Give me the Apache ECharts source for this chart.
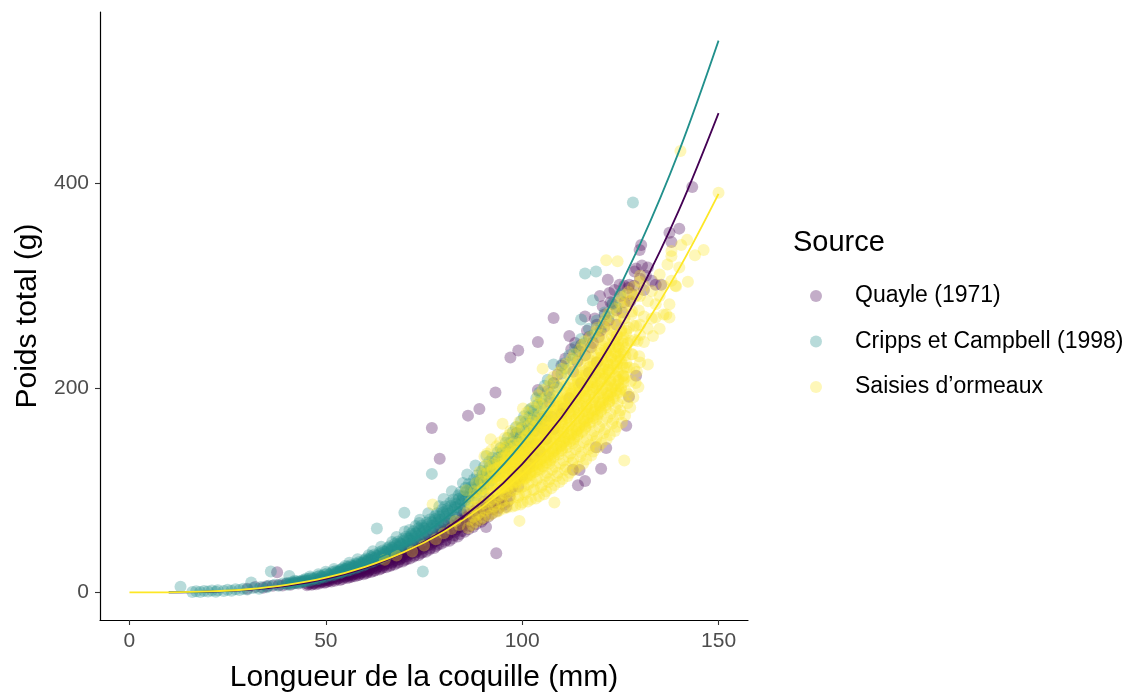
<!DOCTYPE html>
<html>
<head>
<meta charset="utf-8">
<title>Poids total vs longueur de la coquille</title>
<script src="https://cdn.jsdelivr.net/npm/echarts@6/dist/echarts.min.js"></script>
<style>
  html, body { margin: 0; padding: 0; background: #ffffff; overflow: hidden; }
  #chart { width: 1128px; height: 698px; }
</style>
</head>
<body>
<div id="chart"></div>
<script>
// Sources (legend order) and their viridis colours
const sourceNames = ['Quayle (1971)', 'Cripps et Campbell (1998)', 'Saisies d\u2019ormeaux'];
const sourceColors = ['68,1,84', '33,144,140', '253,231,37'];

// Axis ticks
const xTicks = [0, 50, 100, 150];
const yTicks = [0, 200, 400];

// Observations: [longueur (mm), poids total (g)]
const quaylePoints = [
  [30,3.5],[32,5.2],[34,4.6],[35,6],[36.5,6.5],[37.6,19.7],[38,7.2],[39,6.8],[40,8.4],[41,7.6],[42,9.2],[43,8.8],[44,10.4],
  [45.2,6.9],[45.6,7.9],[45.1,8.6],[46.4,7.4],[46.8,8.5],[46.2,9.5],[47.5,8.1],[47.1,9.2],[47.7,10.3],
  [48.3,8.8],[48.8,9.9],[48.5,11],[48.1,11.9],[49.6,9.5],[49.2,10.7],[49.8,11.8],[49.4,12.7],
  [50.1,9.9],[50.7,11.2],[50.3,12.4],[50.9,13.4],[51.4,10.7],[51.0,12],[51.6,13.2],[51.2,14.4],
  [52.3,11.4],[52.8,12.9],[52.5,14.2],[52.1,15.3],[53.6,12.2],[53.2,13.8],[53.8,15.2],[53.4,16.4],
  [54.2,13.2],[54.7,14.7],[54.4,16.2],[54.0,17.5],[55.5,14],[55.1,15.6],[55.7,17.2],[55.3,18.6],
  [56.1,14.9],[56.6,16.7],[56.3,18.4],[56.9,19.8],[57.4,15.8],[57.0,17.8],[57.7,19.5],[57.2,21.1],
  [58.2,16.8],[58.8,18.9],[58.5,20.7],[58.0,22.4],[59.6,17.8],[59.2,20],[59.8,22],[59.4,23.7],
  [60.3,18.8],[60.9,21.2],[60.5,23.3],[60.1,25.1],[61.5,19.9],[61.1,22.4],[61.7,24.7],[61.3,26.6],
  [62.2,21],[62.8,23.6],[62.4,26],[62.0,28.2],[63.6,22.3],[63.2,25],[63.8,27.5],[63.4,29.7],
  [64.1,23.5],[64.7,26.4],[64.3,29.1],[64.9,31.4],[65.4,24.7],[65.0,27.8],[65.6,30.6],[65.2,33.1],
  [66.3,25.9],[66.9,29.3],[66.5,32.2],[66.1,34.9],[67.5,27.3],[67.1,30.8],[67.7,33.9],[67.3,36.6],
  [68.2,28.7],[68.8,32.4],[68.4,35.6],[68.0,38.5],[69.6,30.2],[69.2,34],[69.8,37.4],[69.4,40.4],
  [70.1,31.6],[70.7,35.7],[70.3,39.3],[70.9,42.3],[71.4,33.2],[71.0,37.4],[71.6,41.1],[71.2,44.3],
  [72.3,34.8],[72.9,39.2],[72.5,43.1],[72.1,46.5],[73.6,36.4],[73.2,41],[73.8,45.1],[73.4,48.7],
  [74.2,38.2],[74.8,42.9],[74.4,47.2],[74.0,51],[75.5,39.9],[75.1,44.9],[75.7,49.3],[75.3,53.2],
  [76.3,41.7],[76.9,46.9],[76.5,51.6],[76.1,55.6],[77.6,43.5],[77.2,48.9],[77.8,53.9],[77.4,58],
  [78.1,45.4],[78.7,51.2],[78.3,56.3],[78.9,60.6],[79.4,47.5],[79.0,53.4],[79.6,58.7],[79.2,63.2],
  [80.3,49.5],[80.9,55.7],[80.5,61.3],[80.1,66],[81.5,50.5],[81.1,56.8],[81.7,62.5],[81.3,67.2],
  [82.2,52.7],[82.8,59.2],[82.4,65.2],[82.0,70.1],[83.6,54.8],[83.2,61.7],[83.8,67.9],[83.4,73],
  [84.1,57.1],[84.7,64.2],[84.3,70.7],[84.9,76.1],[85.4,59.3],[85.0,66.8],[85.6,73.4],[85.2,79.1],
  [86.3,61.7],[86.9,69.4],[86.5,76.4],[87.5,64.1],[87.1,72.1],[87.7,79.4],[88.2,66.6],[88.8,74.9],[88.4,82.4],
  [89.6,69.1],[89.2,77.8],[89.8,85.5],[90.1,71.7],[90.7,80.7],[90.3,88.7],[91.4,74.4],[91.0,83.7],[91.6,91.8],
  [92.3,77.1],[92.9,86.8],[93.6,79.9],[93.2,90],[94.1,82.8],[94.7,93.2],[95.4,85.8],[96.3,88.7],
  [55.8,16.4],[56.7,15.5],[57.9,18.6],[58.6,17.4],[59.9,20.8],[60.6,19.7],[61.9,23.2],[62.6,21.8],
  [63.9,25.8],[64.6,24.3],[65.9,28.6],[66.6,26.9],[67.9,31.6],[68.6,29.7],[69.9,34.8],[70.6,32.7],
  [71.9,38.2],[72.6,36],[73.9,41.9],[74.6,39.4],[75.9,45.8],[76.6,43.1],[77.9,50],[78.6,47],
  [79.9,54.4],[80.6,51.2],[81.9,59],[82.6,55.6],[83.9,64],[84.6,60.2],[85.9,69.2],[86.6,65],
  [87.9,74.6],[88.6,70.2],[89.9,80.4],[90.6,75.6],[91.9,86.4],[92.6,81.3],[93.9,87.5],[94.6,92.7],
  [95.8,98],[96.8,94],[97.6,104],[98.6,112],
  [77,160.9],[79,130.7],[86.2,173],[89.1,179.4],[90.8,64],[93.2,195.6],[93.4,38.3],[95.9,83.7],
  [97,230],[98.5,155.7],[99,236.8],
  [97,99],[97.5,118],[98,109],[99,103.6],[99.5,124],[100,114],[101,120],[101,132],[101.5,142],[102,126],
  [103,132],[103,158],[103.5,145],[104,245],[104,198],[104.5,138],[105,170],[105.5,160],[106.5,197],[106,150],
  [107,186],[107.5,172],[108,268.6],[108,205],[108,160],[109,213],[110,222],[110,175],[110.5,180],[111,229],
  [112,251],[112,190],[112.5,238],[112.9,120],[113,216],[113.5,244],[114,226],[114.5,236],[114.2,104.8],[114.6,119.7],
  [115,242],[115,205],[116,109],[116,232],[116,270],[116.5,256],[117,250],[117,215],[117.5,240],[118,244],
  [118.5,268],[118.8,142],[119,262],[119,225],[119.5,250],[119.8,290],[120,256],[120.1,121],[120.5,280],[121,272],
  [121,260],[121.4,141.4],[121.8,306],[122,266],[122.2,293],[122.5,284],[123,282],[123.5,296],[124,276],[124,262],
  [124.8,301],[125,290],[125.5,274],[126,284],[126,300],[126.5,163],[127,298],[127.2,191.4],[127.3,301],[127.5,285],
  [128,292],[128.5,300],[128.6,314],[129,317],[129,212],[130,307],[130.5,320],[130.3,340],[129.9,335],[131,296],
  [131.5,310],[132,318],[133,305],[134,301],[135.4,301],[137.5,352],[138,343],[140,356],[143.3,396.8]
];

const crippsPoints = [
  [13,5.5],[16,0.5],[17,1.2],[18,0.3],[19,1.5],[20,0.8],[21,1.8],[22,0.6],[22.5,2.2],[24,1.4],
  [25,2.6],[26,1.6],[27,3.2],[28,2.4],[29,3.6],[30,2.9],[31,9.7],[31.5,4.2],[33,3.6],[33.5,5.4],
  [35,5.0],[35.5,6.6],[36,20.4],[37,7.4],[38,6.4],[39,8.6],[40.7,16],
  [40.2,7.5],[40.6,8.4],[40.1,9.2],[41.4,8.3],[41.0,9.4],[41.7,10.1],
  [42.3,8.9],[42.8,9.6],[42.5,10.7],[42.1,11.4],[43.6,9.4],[43.2,10.6],[43.8,11.3],
  [44.1,10.1],[44.7,11.3],[44.3,12.2],[44.9,13.4],[45.5,11.1],[45.1,12],[45.7,13.3],
  [46.2,11.7],[46.8,13.1],[46.4,14.1],[46.0,15.5],[47.6,12.7],[47.2,13.8],[47.8,15.3],
  [48.3,13.4],[48.9,15],[48.5,16.2],[48.1,17.8],[49.4,14.5],[49.0,15.8],[49.7,17.5],
  [50.2,15.3],[50.8,17.1],[50.4,18.4],[50.0,20.2],[51.5,16.5],[51.1,18],[51.7,19.9],
  [52.3,17.3],[52.9,19.3],[52.5,20.9],[52.1,22.9],[53.6,18.7],[53.2,20.4],[53.8,22.5],
  [54.1,19.6],[54.7,21.8],[54.3,23.6],[54.9,25.8],[55.4,21],[55.0,22.9],[55.6,25.3],
  [56.2,22],[56.8,24.5],[56.4,26.6],[56.0,29],[57.5,23.5],[57.1,25.7],[57.7,28.3],
  [58.3,24.7],[58.9,27.4],[58.5,29.8],[58.1,32.5],[59.6,26.4],[59.2,28.9],[59.8,31.7],
  [60.1,27.5],[60.7,30.7],[60.3,33.3],[60.9,36.3],[61.4,29.3],[61.0,32.1],[61.6,35.3],
  [62.2,30.6],[62.8,34],[62.4,37.2],[62.0,40.3],[63.5,32.5],[63.1,35.7],[63.7,39.2],
  [64.3,33.9],[64.9,37.7],[64.5,41],[64.1,44.6],[65.6,36],[65.2,39.5],[65.8,43.4],
  [66.1,37.4],[66.7,41.6],[66.3,45.2],[66.9,49.3],[67.4,39.6],[67.0,43.5],[67.6,47.7],
  [68.2,41.3],[68.8,45.8],[68.4,49.8],[68.0,54.2],[69.5,43.6],[69.1,47.9],[69.7,52.5],
  [70.3,45.3],[70.9,50.2],[70.5,54.7],[70.1,59.5],[71.6,47.7],[71.2,52.4],[71.8,57.4],
  [72.1,49.6],[72.7,55],[72.3,59.8],[72.9,65.1],[73.4,52.1],[73.0,57.3],[73.6,62.8],
  [74.2,54.2],[74.8,60],[74.4,65.4],[74.0,71.1],[75.5,56.9],[75.1,62.4],[75.7,68.5],
  [76.3,59.1],[76.9,65.5],[76.5,71.3],[76.1,77.5],[77.6,62],[77.2,68],[77.8,74.6],
  [78.1,64.3],[78.7,71.3],[78.3,77.5],[78.9,84.3],[79.4,67.3],[79.0,73.9],[79.6,81],
  [80.2,69.7],[80.8,77.2],[80.4,84],[80.0,91.4],[81.5,72.9],[81.1,80.1],[81.7,87.8],
  [82.3,75.6],[82.9,83.6],[82.5,91],[82.1,98.9],[83.6,78.8],[83.2,86.6],[83.8,95],
  [84.1,81.6],[84.7,90.4],[84.3,98.3],[84.9,107],[85.4,85.1],[85.0,93.5],[85.6,102.5],
  [86.2,88.1],[86.8,97.5],[86.4,106.1],[86.0,115.4],[87.5,91.8],[87.1,100.8],[87.7,110.5],
  [88.3,94.9],[88.9,105],[88.5,114.3],[88.1,124.3],[89.6,98.8],[89.2,108.5],[89.8,118.9],
  [90.1,102],[90.7,112.8],[90.3,122.9],[90.9,133.6],[91.4,106.2],[91.0,116.6],[91.6,127.8],
  [92.2,109.5],[92.8,121.1],[92.4,131.8],[93.5,113.8],[93.1,125],[93.7,136.9],
  [94.3,117.3],[94.9,129.7],[94.5,141.3],[95.6,121.8],[95.2,133.8],[95.8,146.5],
  [96.1,125.5],[96.7,138.8],[96.3,151.2],[97.4,130.2],[97.0,143.1],[97.6,156.7],
  [98.2,134.2],[98.8,148.3],[98.4,161.6],[99.5,139.1],[99.1,152.9],[99.7,167.4],
  [100.3,143.2],[100.9,158.2],[100.5,172.4],[101.6,148.2],[101.2,162.8],[101.8,178.2],
  [102.1,152.6],[102.7,168.6],[102.3,180],[103.4,157.8],[103.0,173.5],[103.6,189.9],
  [104.2,162.6],[104.8,179.6],[104.4,195.7],[105.5,168],[105.1,184.7],[105.7,202.3],
  [106.3,172.8],[106.9,190.9],[106.5,208.1],
  [52.45,18.5],[52.85,20.3],[53.45,19.7],[53.85,21.6],[54.45,20.9],[54.85,22.9],[55.45,22.2],[55.85,24.3],
  [56.45,23.5],[56.85,25.8],[57.45,24.9],[57.85,27.3],[58.45,26.3],[58.85,28.8],[59.45,27.9],[59.85,30.5],
  [60.45,29.4],[60.85,32.3],[61.45,31],[61.85,34],[62.45,32.7],[62.85,35.8],[63.45,34.4],[63.85,37.7],
  [64.45,36.2],[64.85,39.7],[65.45,38.1],[65.85,41.7],[66.45,39.9],[66.85,43.8],[67.45,41.9],[67.85,45.9],
  [68.45,44],[68.85,48.2],[69.45,46.1],[69.85,50.5],[70.45,48.3],[70.85,52.9],[71.45,50.5],[71.85,55.4],
  [72.45,52.8],[72.85,57.9],[73.45,55.2],[73.85,60.5],[74.45,57.7],[74.85,63.3],[75.45,60.3],[75.85,66.1],
  [76.45,62.9],[76.85,69],[77.45,65.6],[77.85,71.9],[78.45,68.4],[78.85,75],[79.45,71.2],[79.85,78.1],
  [80.45,74.2],[80.85,81.3],[81.45,77.2],[81.85,84.6],[82.45,80.3],[82.85,88],[83.45,83.5],[83.85,91.5],
  [84.45,86.8],[84.85,95.2],[85.45,90.3],[85.85,99],[86.45,93.7],[86.85,102.7],[87.45,97.2],[87.85,106.6],
  [88.45,100.9],[88.85,110.6],[89.45,104.6],[89.85,114.7],[90.45,108.5],[90.85,118.9],[91.45,112.4],[91.85,123.2],
  [92.45,116.4],[92.85,127.6],[93.45,120.5],[93.85,132.1],[94.45,124.7],[94.85,136.7],[95.45,129.1],[95.85,141.5],
  [96.45,133.4],[96.85,146.3],[97.45,138],[97.85,151.3],[98.45,142.6],[98.85,156.3],[99.45,147.4],[99.85,161.5],
  [100.45,152.2],[100.85,166.8],[101.45,157.1],[101.85,172.3],[102.45,162.1],[102.85,177.7],[103.45,167.4],[103.85,183.5],
  [104.45,172.7],[104.85,189.4],
  [63,62.6],[70,78],[71.3,61],[73.8,68],[74.7,20.4],[77,116],
  [107,195],[108,223],[108,205],[109,201],[110,214],[110.5,224],[111,219],[112,232],[113,228],
  [113.5,240],[114,236],[115,267],[115,248],[116,312],[116,244],[117,258],[118,286],[118,252],[118.8,314],
  [119,266],[120,259],[121,274],[122,270],[123,283],[124,279],[125,292],[128.2,381.5]
];

const saisiesPoints = [
  [65,32],[68,36],[72,40],[75,46],[77.2,86],[78,52],[80,58],[82,62],[83,70],[84,66],[85.7,100],
  [86.2,63],[86.6,71],[86.1,79],[86.8,88],
  [87.3,66],[87.7,74],[87.1,83],[87.5,92],[87.9,99],
  [88.2,69],[88.6,76],[88.0,84],[88.4,91],[88.8,98],[88.3,107],
  [89.4,71],[89.1,78],[89.7,86],[89.3,93],[89.9,101],[89.5,109],[89.2,118],
  [90.1,73],[90.6,80],[90.3,87],[90.8,94],[90.0,101],[90.5,108],[90.2,116],[90.7,124],[90.4,133],
  [91.5,75],[91.2,82],[91.8,89],[91.4,96],[91.0,103],[91.6,110],[91.3,117],[91.9,125],[91.1,136],
  [92.3,77],[92.8,84],[92.0,91],[92.6,98],[92.2,105],[92.9,112],[92.4,119],[92.7,127],[92.1,139],[92.0,150],
  [93.6,79],[93.2,86],[93.9,93],[93.4,100],[93.0,107],[93.7,114],[93.3,121],[93.8,129],[93.5,143],
  [94.1,80],[94.7,88],[94.3,95],[94.9,102],[94.5,109],[94.0,116],[94.6,123],[94.2,131],[94.8,139],[94.4,147],
  [95.4,82],[95.0,89],[95.7,96],[95.3,103],[95.9,110],[95.5,117],[95.1,124],[95.8,132],[95.2,141],[95.6,151],[95.0,165],
  [96.2,83],[96.8,91],[96.4,98],[96.0,105],[96.6,112],[96.3,119],[96.9,126],[96.5,134],[96.1,143],[96.7,154],
  [97.5,84],[97.1,92],[97.8,100],[97.3,107],[97.9,114],[97.6,121],[97.2,128],[97.7,136],[97.4,145],[97.0,158],
  [98.3,85],[98.9,93],[98.5,101],[98.1,109],[98.7,116],[98.2,123],[98.8,130],[98.4,138],[98.0,147],[98.6,162],
  [99.3,70],[99.6,86],[99.2,95],[99.8,103],[99.4,111],[99.0,118],[99.7,125],[99.3,132],[99.9,140],[99.5,149],[99.1,158],[99.3,167],
  [100.1,88],[100.7,96],[100.4,104],[100.9,112],[100.2,120],[100.6,127],[100.3,134],[100.8,142],[100.5,151],[100.0,160],[100.7,170],[100.2,180],
  [101.4,89],[101.0,98],[101.6,106],[101.2,114],[101.8,122],[101.5,130],[101.1,137],[101.7,145],[101.3,154],[101.9,164],[101.2,176],
  [102.2,91],[102.8,100],[102.5,108],[102.1,116],[102.7,124],[102.3,132],[102.9,140],[102.6,148],[102.0,157],[102.4,167],[102.8,181],
  [103.5,92],[103.1,101],[103.7,110],[103.3,118],[103.9,126],[103.6,134],[103.2,142],[103.8,151],[103.4,160],[103.0,170],[103.6,186],
  [104.3,94],[104.8,103],[104.0,112],[104.6,120],[104.2,128],[104.9,137],[104.4,145],[104.1,154],[104.7,163],[104.3,173],[104.5,184],[104.0,193],
  [105.6,96],[105.2,105],[105.9,114],[105.4,123],[105.0,131],[105.7,140],[105.3,148],[105.8,157],[105.5,166],[105.1,176],[105.6,187],[105.2,198],[105.2,219],
  [106.1,99],[106.7,108],[106.3,117],[106.9,126],[106.5,134],[106.0,143],[106.6,152],[106.2,161],[106.8,170],[106.4,180],[106.1,191],[106.7,202],
  [107.4,102],[107.0,111],[107.6,120],[107.2,129],[107.8,138],[107.5,147],[107.1,156],[107.7,165],[107.3,174],[107.9,184],[107.6,195],[107.2,207],
  [108.2,88],[108.2,105],[108.8,114],[108.4,123],[108.0,132],[108.6,141],[108.3,150],[108.9,159],[108.5,168],[108.1,178],[108.7,188],[108.4,199],[108.0,211],
  [109.5,108],[109.1,117],[109.7,126],[109.3,135],[109.9,144],[109.6,153],[109.2,162],[109.8,172],[109.4,182],[109.0,192],[109.6,203],[109.3,215],
  [110.3,111],[110.9,120],[110.5,129],[110.1,139],[110.7,148],[110.4,157],[110.0,167],[110.6,177],[110.2,187],[110.8,197],[110.5,208],[110.1,219],
  [111.6,114],[111.2,123],[111.8,133],[111.4,142],[111.0,151],[111.7,161],[111.3,171],[111.9,181],[111.5,191],[111.1,202],[111.7,213],[111.3,224],
  [112.1,117],[112.7,127],[112.3,136],[112.9,146],[112.5,155],[112.0,165],[112.6,175],[112.2,185],[112.8,196],[112.4,207],[112.0,218],[112.6,229],
  [113.4,120],[113.0,130],[113.6,140],[113.2,150],[113.8,159],[113.5,169],[113.1,179],[113.7,190],[113.3,200],[113.9,211],[113.5,222],[113.2,233],
  [114.2,123],[114.8,133],[114.4,143],[114.0,153],[114.6,163],[114.3,173],[114.9,183],[114.5,194],[114.1,205],[114.7,216],[114.3,227],[114.8,238],
  [115.5,126],[115.1,137],[115.7,147],[115.3,157],[115.9,167],[115.6,177],[115.2,188],[115.8,198],[115.4,209],[115.0,220],[115.6,231],[115.3,242],
  [116.3,130],[116.9,140],[116.5,150],[116.1,161],[116.7,171],[116.4,181],[116.0,192],[116.6,202],[116.2,213],[116.8,224],[116.4,235],[116.0,246],
  [117.6,134],[117.2,144],[117.8,154],[117.4,165],[117.0,175],[117.7,185],[117.3,196],[117.9,206],[117.5,217],[117.1,228],[117.7,239],[117.3,250],
  [118.1,138],[118.7,148],[118.3,158],[118.9,169],[118.5,179],[118.2,189],[118.8,200],[118.4,211],[118.0,221],[118.6,232],[118.2,243],[118.8,255],
  [119.4,142],[119.0,152],[119.6,162],[119.2,173],[119.8,183],[119.5,194],[119.1,204],[119.7,215],[119.3,226],[119.9,237],[119.5,248],[119.1,259],
  [120.2,146],[120.8,156],[120.4,167],[120.0,177],[120.6,188],[120.3,198],[120.9,209],[120.5,219],[120.1,230],[120.7,241],[120.3,252],[120.8,264],
  [121.5,150],[121.1,160],[121.7,171],[121.3,181],[121.9,192],[121.6,202],[121.2,213],[121.8,224],[121.4,235],[121.0,246],[121.6,257],[121.2,268],[121.4,325],
  [122.3,154],[122.9,165],[122.5,175],[122.1,186],[122.7,196],[122.4,207],[122.0,218],[122.6,229],[122.2,240],[122.8,251],[122.4,262],[122.0,273],
  [123.6,158],[123.2,169],[123.8,180],[123.4,190],[123.0,201],[123.7,212],[123.3,223],[123.9,234],[123.5,245],[123.1,256],[123.7,267],[123.4,278],
  [124.1,162],[124.7,174],[124.3,185],[124.9,196],[124.5,207],[124.2,218],[124.8,229],[124.4,240],[124.0,251],[124.6,262],[124.3,273],[124.9,284],[124.3,324],
  [125.4,166],[125.0,178],[125.6,190],[125.2,201],[125.8,212],[125.5,223],[125.1,234],[125.7,246],[125.3,257],[125.9,268],[125.5,279],[125.2,289],
  [126.0,129],[126.2,173],[126.8,185],[126.4,197],[126.0,209],[126.6,220],[126.3,232],[126.9,244],[126.5,256],[126.1,268],[126.7,280],[126.3,291],
  [127.5,181],[127.1,194],[127.7,207],[127.3,220],[127.9,233],[127.6,246],[127.2,259],[127.8,272],[127.4,285],[127.0,294],
  [128.3,191],[128.9,205],[128.5,219],[128.1,233],[128.7,247],[128.4,261],[128.0,275],[128.6,289],[128.2,299],
  [129.6,201],[129.2,216],[129.8,231],[129.4,246],[129.0,261],[129.7,276],[129.3,291],[129.9,304],
  [92.45,97],[92.45,104.6],[92.45,112.4],[92.45,120],[93.85,99],[93.85,106.5],[93.85,114.5],[93.85,122],
  [94.45,101.4],[94.45,109.4],[94.45,117.6],[94.45,125.6],[95.85,103.4],[95.85,111.7],[95.85,120.3],[95.85,128.6],
  [96.45,105.4],[96.45,114],[96.45,123],[96.45,131.6],[97.85,107.4],[97.85,116.3],[97.85,125.7],[97.85,134.6],
  [98.45,109.3],[98.45,118.6],[98.45,128.4],[98.45,137.7],[99.85,112],[99.85,121.5],[99.85,131.5],[99.85,141],
  [100.45,114],[100.45,123.8],[100.45,134.2],[100.45,144],[101.85,117.3],[101.85,127.6],[101.85,138.4],[101.85,148.7],
  [102.45,119.5],[102.45,130.4],[102.45,141.6],[102.45,152.5],[103.85,122.9],[103.85,134.1],[103.85,145.9],[103.85,157.1],
  [104.45,125.8],[104.45,137.4],[104.45,149.6],[104.45,161.2],[105.85,129.1],[105.85,141.2],[105.85,153.8],[105.85,165.9],
  [106.45,132.5],[106.45,144.6],[106.45,157.4],[106.45,169.5],[107.85,136.1],[107.85,148.5],[107.85,161.5],[107.85,173.9],
  [108.45,139.4],[108.45,152],[108.45,165],[108.45,177.6],[109.85,143],[109.85,155.8],[109.85,169.2],[109.85,182],
  [110.45,146.4],[110.45,159.3],[110.45,172.7],[110.45,185.6],[111.85,150],[111.85,163.2],[111.85,176.8],[111.85,190],
  [112.45,153.7],[112.45,167],[112.45,181],[112.45,194.3],[113.85,157],[113.85,170.5],[113.85,184.5],[113.85,198],
  [114.45,160.7],[114.45,174.4],[114.45,188.6],[114.45,202.3],[115.85,164],[115.85,177.8],[115.85,192.2],[115.85,206],
  [116.45,168.3],[116.45,182.2],[116.45,196.8],[116.45,210.7],[117.85,172.3],[117.85,186.2],[117.85,200.8],[117.85,214.7],
  [118.45,176.7],[118.45,190.7],[118.45,205.3],[118.45,219.4],[119.85,180.7],[119.85,194.7],[119.85,209.3],[119.85,223.4],
  [120.45,185],[120.45,199.1],[120.45,213.9],[120.45,228],[121.85,189],[121.85,203.1],[121.85,217.9],[121.85,232],
  [122.45,193.3],[122.45,207.6],[122.45,222.4],[122.45,236.7],[123.85,197.3],[123.85,211.6],[123.85,226.4],[123.85,240.7],
  [124.45,201.6],[124.45,216],[124.45,231],[124.45,245.4],[125.85,205.6],[125.85,220],[125.85,235],[125.85,249.4],
  [126.45,211],[126.45,224.8],[126.45,239.2],[126.45,253],
  [95.15,99.8],[95.15,116],[95.15,132.2],[96.15,101.6],[96.15,118.5],[96.15,135.4],[97.15,103.5],[97.15,121],[97.15,138.5],
  [98.15,105.3],[98.15,123.5],[98.15,141.7],[99.15,107.8],[99.15,126.5],[99.15,145.2],[100.15,109.7],[100.15,129],[100.15,148.4],
  [101.15,112.8],[101.15,133],[101.15,153.3],[102.15,114.9],[102.15,136],[102.15,157.2],[103.15,118],[103.15,140],[103.15,162],
  [104.15,120.8],[104.15,143.5],[104.15,166.2],[105.15,123.9],[105.15,147.5],[105.15,171.1],[106.15,127.2],[106.15,151],[106.15,174.9],
  [107.15,130.7],[107.15,155],[107.15,179.3],[108.15,134],[108.15,158.5],[108.15,183],[109.15,137.5],[109.15,162.5],[109.15,187.5],
  [110.15,140.8],[110.15,166],[110.15,191.2],[111.15,144.4],[111.15,170],[111.15,195.7],[112.15,147.9],[112.15,174],[112.15,200.1],
  [113.15,151.2],[113.15,177.5],[113.15,203.8],[114.15,154.7],[114.15,181.5],[114.15,208.3],[115.15,158],[115.15,185],[115.15,212],
  [116.15,162.3],[116.15,189.5],[116.15,216.7],[117.15,166.3],[117.15,193.5],[117.15,220.7],[118.15,170.6],[118.15,198],[118.15,225.5],
  [119.15,174.6],[119.15,202],[119.15,229.5],[120.15,178.8],[120.15,206.5],[120.15,234.2],[121.15,182.8],[121.15,210.5],[121.15,238.2],
  [122.15,187.1],[122.15,215],[122.15,242.9],[123.15,191.1],[123.15,219],[123.15,246.9],[124.15,195.4],[124.15,223.5],[124.15,251.6],
  [125.15,199.4],[125.15,227.5],[125.15,255.6],
  [95.65,107],[95.65,125],[96.65,109.1],[96.65,127.9],[97.65,111.3],[97.65,130.8],[98.65,113.4],[98.65,133.6],
  [99.65,116.1],[99.65,136.9],[100.65,118.3],[100.65,139.8],[101.65,121.8],[101.65,144.3],[102.65,124.3],[102.65,147.8],
  [103.65,127.8],[103.65,152.3],[104.65,130.9],[104.65,156.1],[105.65,134.4],[105.65,160.6],[106.65,137.8],[106.65,164.3],
  [107.65,141.5],[107.65,168.5],[108.65,144.9],[108.65,172.1],[109.65,148.6],[109.65,176.4],[110.65,152],[110.65,180],
  [111.65,155.8],[111.65,184.3],[112.65,159.5],[112.65,188.5],[113.65,162.9],[113.65,192.1],[114.65,166.6],[114.65,196.4],
  [115.65,170],[115.65,200],[116.65,174.4],[116.65,204.6],[117.65,178.4],[117.65,208.6],[118.65,182.8],[118.65,213.3],
  [119.65,186.8],[119.65,217.3],[120.65,191.1],[120.65,221.9],[121.65,195.1],[121.65,225.9],[122.65,199.5],[122.65,230.5],
  [123.65,203.5],[123.65,234.5],[124.65,207.9],[124.65,239.1],[125.65,211.9],[125.65,243.1],
  [130,225],[130,252],[130,262],[130,290],[130,310],[131,245],[131,270],[131,300],[132,223],[132,258],[132,285],
  [133,268],[133.3,251],[133,295],[134,269],[134,282],[135,311],[135,290],[135,258],[136,272],[136,300],
  [137,321],[136.7,272],[137.5,269],[137.5,282],[138,334],[138,329],[138,305],[139,300],[139.2,299.5],
  [140.5,340],[140.3,432],[140,318],[142.2,304],[142,345],[144,330],[146.2,335],[150,391]
];

// Fitted curves, read at regular shell lengths
const curveLength = [0, 10, 20, 30, 40, 50, 60, 70, 80, 90, 100, 110, 120, 130, 140, 150];
const quayleFit  = [null, 0.07, 0.67, 2.5, 6.4, 13.2, 23.9, 39.4, 60.8, 89.2, 125.6, 171.2, 227.1, 294.6, 374.8, 469];
const crippsFit  = [null, 0.09, 0.82, 3.0, 7.7, 15.7, 28.3, 46.4, 71.3, 104.3, 146.3, 198.9, 263.3, 340.6, 432.4, 540];
const saisiesFit = [0, 0.12, 0.92, 3.1, 7.4, 14.4, 25.0, 39.6, 59.2, 84.2, 115.6, 153.8, 199.7, 253.9, 317.1, 390];

const pointSets = [quaylePoints, crippsPoints, saisiesPoints];
const fitSets = [quayleFit, crippsFit, saisiesFit];

const FONT = '"Liberation Sans", Arial, sans-serif';

const scatterSeries = sourceNames.map((name, i) => ({
  type: 'scatter',
  name: name,
  data: pointSets[i],
  symbol: 'circle',
  symbolSize: 12,
  itemStyle: { color: 'rgba(' + sourceColors[i] + ',0.4)' },
  emphasis: { disabled: true },
  large: false,
  z: 2
}));

const lineSeries = sourceNames.map((name, i) => ({
  type: 'line',
  name: name + ' (ajustement)',
  data: curveLength.map((x, k) => [x, fitSets[i][k]]),
  showSymbol: false,
  smooth: 0.35,
  connectNulls: false,
  lineStyle: { color: 'rgb(' + sourceColors[i] + ')', width: 1.8 },
  itemStyle: { color: 'rgb(' + sourceColors[i] + ')' },
  emphasis: { disabled: true },
  z: 3 + i
}));

const chart = echarts.init(document.getElementById('chart'), null, { renderer: 'canvas', width: 1128, height: 698 });

chart.setOption({
  animation: false,
  backgroundColor: '#ffffff',
  textStyle: { fontFamily: FONT },
  title: {
    text: 'Source',
    left: 788,
    top: 223,
    textStyle: { fontFamily: FONT, fontSize: 29, fontWeight: 'normal', color: '#000000' }
  },
  legend: {
    data: sourceNames,
    orient: 'vertical',
    left: 805,
    top: 279.5,
    icon: 'circle',
    itemWidth: 12,
    itemHeight: 12,
    itemGap: 22.5,
    textStyle: { fontFamily: FONT, fontSize: 23, color: '#000000', padding: [0, 0, 0, 28] },
    selectedMode: false
  },
  grid: { left: 100, top: 12, width: 648, height: 617, containLabel: false },
  xAxis: {
    type: 'value',
    min: -7.5,
    max: 157.5,
    name: 'Longueur de la coquille (mm)',
    nameLocation: 'middle',
    nameGap: 43,
    nameTextStyle: { fontFamily: FONT, fontSize: 30, color: '#000000' },
    axisLine: { show: true, onZero: false, lineStyle: { color: '#000000', width: 1.2 } },
    axisTick: { show: true, customValues: xTicks, length: 5, lineStyle: { color: '#333333', width: 1.1 } },
    axisLabel: { customValues: xTicks, margin: 11, fontFamily: FONT, fontSize: 21, color: '#4d4d4d' },
    splitLine: { show: false }
  },
  yAxis: {
    type: 'value',
    min: -27,
    max: 568,
    name: 'Poids total (g)',
    nameLocation: 'middle',
    nameGap: 48,
    nameTextStyle: { fontFamily: FONT, fontSize: 30, color: '#000000' },
    axisLine: { show: true, onZero: false, lineStyle: { color: '#000000', width: 1.2 } },
    axisTick: { show: true, customValues: yTicks, length: 5, lineStyle: { color: '#333333', width: 1.1 } },
    axisLabel: { customValues: yTicks, margin: 11, fontFamily: FONT, fontSize: 21, color: '#4d4d4d' },
    splitLine: { show: false }
  },
  series: scatterSeries.concat(lineSeries)
});
</script>
</body>
</html>
